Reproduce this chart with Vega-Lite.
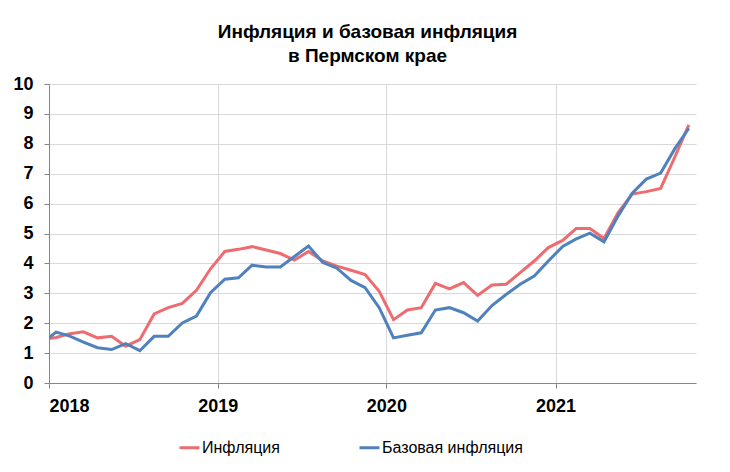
{
  "$schema": "https://vega.github.io/schema/vega-lite/v6.json",
  "autosize": {"type": "none"},
  "width": 647,
  "height": 299,
  "padding": {"left": 49, "top": 84, "right": 34, "bottom": 89},
  "background": "white",
  "title": {
    "text": ["Инфляция и базовая инфляция", "в Пермском крае"],
    "font": "Liberation Sans",
    "fontSize": 19,
    "fontWeight": "bold",
    "color": "#000000",
    "lineHeight": 24,
    "anchor": "middle",
    "dx": -5,
    "offset": 9
  },
  "config": {
    "view": {"stroke": null},
    "axis": {
      "labelFont": "Liberation Sans",
      "labelFontSize": 18,
      "labelFontWeight": "bold",
      "labelColor": "#000000",
      "domainColor": "#868686",
      "tickColor": "#868686",
      "gridColor": "#D9D9D9",
      "tickSize": 5,
      "title": null
    }
  },
  "data": {
    "values": [
      {"date": "2017-12", "Инфляция": 1.45, "Базовая инфляция": 1.34},
      {"date": "2018-01", "Инфляция": 1.52, "Базовая инфляция": 1.70},
      {"date": "2018-02", "Инфляция": 1.65, "Базовая инфляция": 1.57},
      {"date": "2018-03", "Инфляция": 1.71, "Базовая инфляция": 1.37},
      {"date": "2018-04", "Инфляция": 1.51, "Базовая инфляция": 1.18},
      {"date": "2018-05", "Инфляция": 1.56, "Базовая инфляция": 1.12},
      {"date": "2018-06", "Инфляция": 1.23, "Базовая инфляция": 1.32},
      {"date": "2018-07", "Инфляция": 1.45, "Базовая инфляция": 1.08},
      {"date": "2018-08", "Инфляция": 2.31, "Базовая инфляция": 1.56},
      {"date": "2018-09", "Инфляция": 2.52, "Базовая инфляция": 1.56},
      {"date": "2018-10", "Инфляция": 2.66, "Базовая инфляция": 2.01},
      {"date": "2018-11", "Инфляция": 3.10, "Базовая инфляция": 2.24},
      {"date": "2018-12", "Инфляция": 3.82, "Базовая инфляция": 3.02},
      {"date": "2019-01", "Инфляция": 4.40, "Базовая инфляция": 3.47},
      {"date": "2019-02", "Инфляция": 4.47, "Базовая инфляция": 3.52},
      {"date": "2019-03", "Инфляция": 4.56, "Базовая инфляция": 3.94},
      {"date": "2019-04", "Инфляция": 4.45, "Базовая инфляция": 3.88},
      {"date": "2019-05", "Инфляция": 4.33, "Базовая инфляция": 3.88},
      {"date": "2019-06", "Инфляция": 4.11, "Базовая инфляция": 4.23},
      {"date": "2019-07", "Инфляция": 4.40, "Базовая инфляция": 4.58},
      {"date": "2019-08", "Инфляция": 4.08, "Базовая инфляция": 4.03},
      {"date": "2019-09", "Инфляция": 3.91, "Базовая инфляция": 3.84},
      {"date": "2019-10", "Инфляция": 3.77, "Базовая инфляция": 3.43},
      {"date": "2019-11", "Инфляция": 3.63, "Базовая инфляция": 3.19},
      {"date": "2019-12", "Инфляция": 3.07, "Базовая инфляция": 2.52},
      {"date": "2020-01", "Инфляция": 2.12, "Базовая инфляция": 1.51},
      {"date": "2020-02", "Инфляция": 2.44, "Базовая инфляция": 1.60},
      {"date": "2020-03", "Инфляция": 2.52, "Базовая инфляция": 1.68},
      {"date": "2020-04", "Инфляция": 3.33, "Базовая инфляция": 2.44},
      {"date": "2020-05", "Инфляция": 3.15, "Базовая инфляция": 2.52},
      {"date": "2020-06", "Инфляция": 3.36, "Базовая инфляция": 2.35},
      {"date": "2020-07", "Инфляция": 2.93, "Базовая инфляция": 2.07},
      {"date": "2020-08", "Инфляция": 3.28, "Базовая инфляция": 2.59},
      {"date": "2020-09", "Инфляция": 3.30, "Базовая инфляция": 2.96},
      {"date": "2020-10", "Инфляция": 3.69, "Базовая инфляция": 3.30},
      {"date": "2020-11", "Инфляция": 4.08, "Базовая инфляция": 3.58},
      {"date": "2020-12", "Инфляция": 4.53, "Базовая инфляция": 4.08},
      {"date": "2021-01", "Инфляция": 4.77, "Базовая инфляция": 4.57},
      {"date": "2021-02", "Инфляция": 5.17, "Базовая инфляция": 4.82},
      {"date": "2021-03", "Инфляция": 5.17, "Базовая инфляция": 5.01},
      {"date": "2021-04", "Инфляция": 4.83, "Базовая инфляция": 4.72},
      {"date": "2021-05", "Инфляция": 5.70, "Базовая инфляция": 5.59},
      {"date": "2021-06", "Инфляция": 6.32, "Базовая инфляция": 6.35},
      {"date": "2021-07", "Инфляция": 6.40, "Базовая инфляция": 6.82},
      {"date": "2021-08", "Инфляция": 6.51, "Базовая инфляция": 7.02},
      {"date": "2021-09", "Инфляция": 7.55, "Базовая инфляция": 7.83},
      {"date": "2021-10", "Инфляция": 8.63, "Базовая инфляция": 8.52}
    ]
  },
  "transform": [
    {"fold": ["Инфляция", "Базовая инфляция"], "as": ["series", "value"]}
  ],
  "mark": {"type": "line", "strokeWidth": 3, "clip": true},
  "encoding": {
    "x": {
      "field": "date",
      "type": "temporal",
      "timeUnit": "utcyearmonth",
      "bandPosition": 0.5,
      "scale": {
        "domain": [
          {"year": 2018, "month": 1, "date": 1, "utc": true},
          {"year": 2021, "month": 11, "date": 1, "utc": true}
        ],
        "nice": false
      },
      "axis": {
        "values": [
          {"year": 2018, "month": 1, "date": 1, "utc": true},
          {"year": 2019, "month": 1, "date": 1, "utc": true},
          {"year": 2020, "month": 1, "date": 1, "utc": true},
          {"year": 2021, "month": 1, "date": 1, "utc": true}
        ],
        "format": "%Y",
        "grid": true,
        "labelDx": 7,
        "labelPadding": 9
      }
    },
    "y": {
      "field": "value",
      "type": "quantitative",
      "scale": {"domain": [0, 10], "nice": false},
      "axis": {
        "values": [0, 1, 2, 3, 4, 5, 6, 7, 8, 9, 10],
        "grid": true,
        "labelPadding": 11
      }
    },
    "color": {
      "field": "series",
      "type": "nominal",
      "scale": {
        "domain": ["Инфляция", "Базовая инфляция"],
        "range": ["#EE6B6F", "#4F81BD"]
      },
      "legend": {
        "title": null,
        "orient": "none",
        "legendX": 129,
        "legendY": 352,
        "direction": "horizontal",
        "symbolType": "stroke",
        "symbolSize": 400,
        "symbolStrokeWidth": 3,
        "labelFont": "Liberation Sans",
        "labelFontSize": 16,
        "labelColor": "#000000",
        "labelOffset": 1,
        "columnPadding": 73
      }
    }
  }
}
